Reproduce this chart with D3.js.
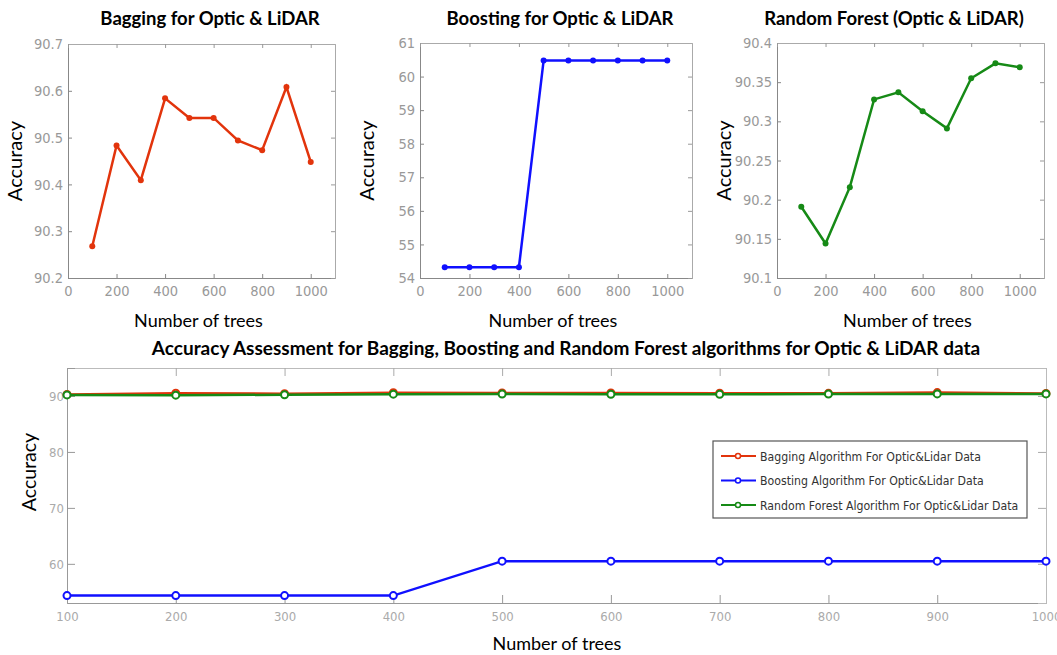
<!DOCTYPE html>
<html>
<head>
<meta charset="utf-8">
<script src="https://cdn.jsdelivr.net/npm/d3@7"></script>
<style>
  body { margin: 0; background: #fff; }
  .title { font-family: Lato, "Open Sans", sans-serif; font-weight: bold; fill: #000; }
  .alabel { font-family: Lato, "Open Sans", sans-serif; fill: #000; }
  .tick text { font-family: "Liberation Sans Narrow", "DejaVu Sans Condensed", sans-serif; fill: #999; }
  .legend text { font-family: "Liberation Sans Narrow", "DejaVu Sans Condensed", sans-serif; font-size: 12.2px; fill: #333; }
</style>
</head>
<body>
<svg width="1057" height="655"></svg>
<script>
// datos
const trees = [100, 200, 300, 400, 500, 600, 700, 800, 900, 1000];
const bagging = [90.268, 90.483, 90.409, 90.584, 90.542, 90.542, 90.494, 90.473, 90.608, 90.448];
const boosting = [54.32, 54.32, 54.32, 54.32, 60.48, 60.48, 60.48, 60.48, 60.48, 60.48];
const randomForest = [90.191, 90.144, 90.216, 90.328, 90.337, 90.313, 90.291, 90.355, 90.374, 90.369];

const xTicksTop = [0, 200, 400, 600, 800, 1000];
const yTicksBagging = [90.2, 90.3, 90.4, 90.5, 90.6, 90.7];
const yTicksBoosting = [54, 55, 56, 57, 58, 59, 60, 61];
const yTicksForest = [90.1, 90.15, 90.2, 90.25, 90.3, 90.35, 90.4];
const xTicksAll = [100, 200, 300, 400, 500, 600, 700, 800, 900, 1000];
const yTicksAll = [60, 70, 80, 90];

const seriesNames = [
  "Bagging Algorithm For Optic&Lidar Data",
  "Boosting Algorithm For Optic&Lidar Data",
  "Random Forest Algorithm For Optic&Lidar Data"
];

const red = "#e2340c", blue = "#1010ff", green = "#168a16";

const svg = d3.select("svg");

const fmt = d => String(+d.toFixed(2));

// paneles de arriba
function panel(opt) {
  const x = d3.scaleLinear().domain([0, 1100]).range([opt.left, opt.right]);
  const y = d3.scaleLinear().domain(opt.yDomain).range([opt.bottom, opt.top]);
  const g = svg.append("g");

  g.append("g")
    .attr("transform", `translate(0,${opt.bottom})`)
    .call(d3.axisBottom(x).tickValues(xTicksTop).tickSize(-4).tickPadding(8).tickFormat(d3.format("d")))
    .call(a => a.select(".domain").attr("stroke", "#888"))
    .call(a => a.selectAll(".tick line").attr("stroke", "#888"))
    .selectAll(".tick text").style("font-size", "14.5px");

  g.append("g")
    .attr("transform", `translate(${opt.left},0)`)
    .call(d3.axisLeft(y).tickValues(opt.yTicks).tickSize(-4).tickPadding(5).tickFormat(fmt))
    .call(a => a.select(".domain").attr("stroke", "#888"))
    .call(a => a.selectAll(".tick line").attr("stroke", "#888"))
    .selectAll(".tick text").style("font-size", "14.5px");

  // bordes de arriba y derecha
  g.append("g")
    .attr("transform", `translate(${opt.right},0)`)
    .call(d3.axisRight(y).tickValues(opt.yTicks).tickSize(-4).tickFormat(""))
    .call(a => a.select(".domain").attr("stroke", "#aaa"))
    .call(a => a.selectAll(".tick line").attr("stroke", "#999"));
  g.append("g")
    .attr("transform", `translate(0,${opt.top})`)
    .call(d3.axisTop(x).tickValues(xTicksTop).tickSize(-4).tickFormat(""))
    .call(a => a.select(".domain").attr("stroke", "#aaa"))
    .call(a => a.selectAll(".tick line").attr("stroke", "#999"));

  const pts = trees.map((t, i) => [t, opt.values[i]]);
  g.append("path")
    .datum(pts)
    .attr("fill", "none")
    .attr("stroke", opt.color)
    .attr("stroke-width", 2.5)
    .attr("d", d3.line().x(d => x(d[0])).y(d => y(d[1])));
  g.selectAll("circle")
    .data(pts)
    .enter()
    .append("circle")
    .attr("cx", d => x(d[0]))
    .attr("cy", d => y(d[1]))
    .attr("r", 3)
    .attr("fill", opt.color);

  g.append("text")
    .attr("class", "title")
    .attr("x", opt.titleX)
    .attr("y", 25)
    .style("text-anchor", "middle")
    .style("font-size", "18.5px")
    .text(opt.title);

  g.append("text")
    .attr("class", "alabel")
    .attr("transform", "rotate(-90)")
    .attr("x", -(opt.top + opt.bottom) / 2)
    .attr("y", opt.left - 46)
    .style("text-anchor", "middle")
    .style("font-size", "20px")
    .text("Accuracy");

  g.append("text")
    .attr("class", "alabel")
    .attr("x", (opt.left + opt.right) / 2 - 3)
    .attr("y", 327)
    .style("text-anchor", "middle")
    .style("font-size", "18px")
    .text("Number of trees");
}

panel({ left: 68, right: 335, top: 44, bottom: 278, yDomain: [90.2, 90.7], yTicks: yTicksBagging,
  values: bagging, color: red, title: "Bagging for Optic & LiDAR", titleX: 210 });
panel({ left: 420, right: 692, top: 43, bottom: 278, yDomain: [54, 61], yTicks: yTicksBoosting,
  values: boosting, color: blue, title: "Boosting for Optic & LiDAR", titleX: 560 });
panel({ left: 777, right: 1044, top: 43, bottom: 278, yDomain: [90.1, 90.4], yTicks: yTicksForest,
  values: randomForest, color: green, title: "Random Forest (Optic & LiDAR)", titleX: 894 });

// grafico de abajo
const b = { left: 67, right: 1046, top: 368, bottom: 603 };
const xb = d3.scaleLinear().domain([100, 1000]).range([b.left, b.right]);
const yb = d3.scaleLinear().domain([53, 95]).range([b.bottom, b.top]);
const gb = svg.append("g");

gb.append("g")
  .attr("transform", `translate(0,${b.bottom})`)
  .call(d3.axisBottom(xb).tickValues(xTicksAll).tickSize(-8).tickPadding(9).tickFormat(d3.format("d")))
  .call(a => a.select(".domain").attr("stroke", "#999"))
  .call(a => a.selectAll(".tick line").attr("stroke", "#999"))
  .selectAll(".tick text").style("font-size", "13px").style("fill", "#aaa");
gb.append("g")
  .attr("transform", `translate(0,${b.top})`)
  .call(d3.axisTop(xb).tickValues(xTicksAll).tickSize(-8).tickFormat(""))
  .call(a => a.select(".domain").attr("stroke", "#bbb"))
  .call(a => a.selectAll(".tick line").attr("stroke", "#aaa"));
gb.append("g")
  .attr("transform", `translate(${b.left},0)`)
  .call(d3.axisLeft(yb).tickValues(yTicksAll).tickSize(-8).tickPadding(3))
  .call(a => a.select(".domain").attr("stroke", "#999"))
  .call(a => a.selectAll(".tick line").attr("stroke", "#999"))
  .selectAll(".tick text").style("font-size", "13px").style("fill", "#aaa");
gb.append("g")
  .attr("transform", `translate(${b.right},0)`)
  .call(d3.axisRight(yb).tickValues(yTicksAll).tickSize(-8).tickFormat(""))
  .call(a => a.select(".domain").attr("stroke", "#bbb"))
  .call(a => a.selectAll(".tick line").attr("stroke", "#aaa"));

const allSeries = [
  { values: bagging, color: red },
  { values: boosting, color: blue },
  { values: randomForest, color: green }
];

allSeries.forEach(s => {
  const pts = trees.map((t, i) => [t, s.values[i]]);
  gb.append("path")
    .datum(pts)
    .attr("fill", "none")
    .attr("stroke", s.color)
    .attr("stroke-width", 2.5)
    .attr("d", d3.line().x(d => xb(d[0])).y(d => yb(d[1])));
  gb.append("g")
    .selectAll("circle")
    .data(pts)
    .enter()
    .append("circle")
    .attr("cx", d => xb(d[0]))
    .attr("cy", d => yb(d[1]))
    .attr("r", 3.5)
    .attr("fill", "#fff")
    .attr("stroke", s.color)
    .attr("stroke-width", 2);
});

// leyenda
const leg = gb.append("g").attr("class", "legend");
leg.append("rect")
  .attr("x", 713).attr("y", 441).attr("width", 314).attr("height", 77)
  .attr("fill", "#fff").attr("stroke", "#555").attr("stroke-width", 1.2);
seriesNames.forEach((name, i) => {
  const yy = 456 + i * 24.5;
  leg.append("line")
    .attr("x1", 721).attr("x2", 756).attr("y1", yy).attr("y2", yy)
    .attr("stroke", allSeries[i].color).attr("stroke-width", 2);
  leg.append("circle")
    .attr("cx", 738).attr("cy", yy).attr("r", 2.5)
    .attr("fill", "#fff").attr("stroke", allSeries[i].color).attr("stroke-width", 1.5);
  leg.append("text")
    .attr("x", 760).attr("y", yy + 4.5)
    .text(name);
});

gb.append("text")
  .attr("class", "title")
  .attr("x", 566)
  .attr("y", 355)
  .style("text-anchor", "middle")
  .style("font-size", "19px")
  .text("Accuracy Assessment for Bagging, Boosting and Random Forest algorithms for Optic & LiDAR data");

gb.append("text")
  .attr("class", "alabel")
  .attr("transform", "rotate(-90)")
  .attr("x", -472)
  .attr("y", 36)
  .style("text-anchor", "middle")
  .style("font-size", "19.5px")
  .text("Accuracy");

gb.append("text")
  .attr("class", "alabel")
  .attr("x", 557)
  .attr("y", 650)
  .style("text-anchor", "middle")
  .style("font-size", "18px")
  .text("Number of trees");
</script>
</body>
</html>
